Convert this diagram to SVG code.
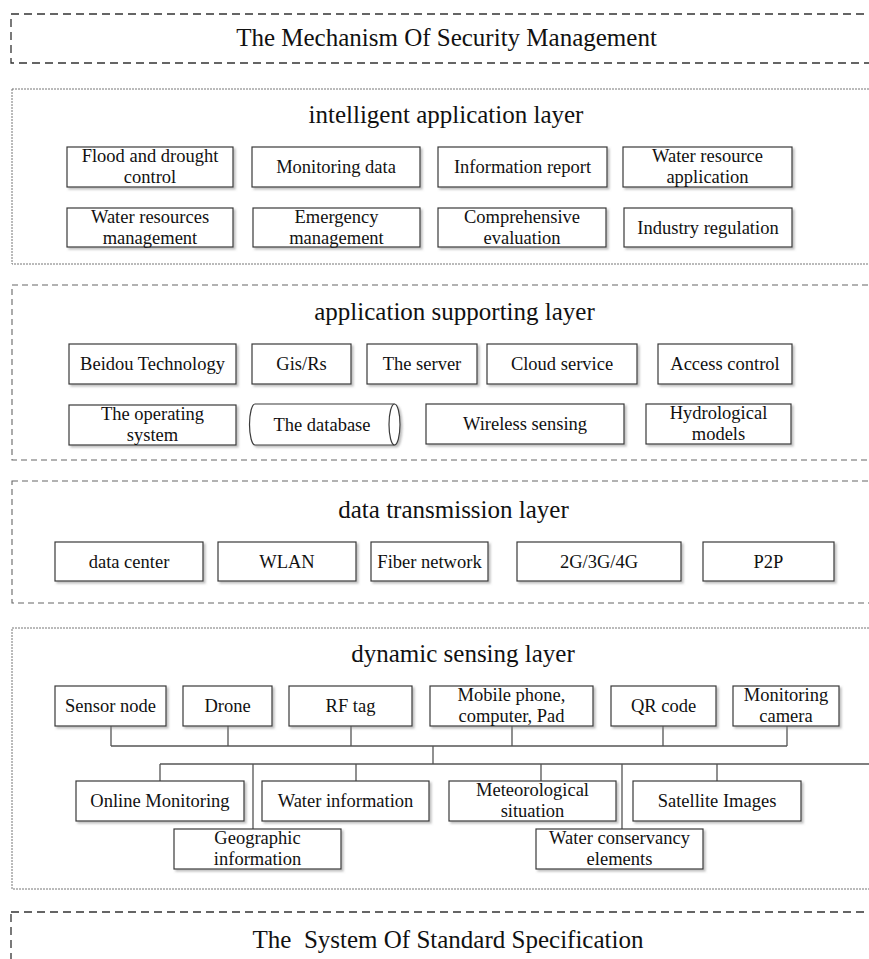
<svg xmlns="http://www.w3.org/2000/svg" width="869" height="959" viewBox="0 0 869 959">
  <defs>
    <filter id="soft" x="-10%" y="-10%" width="130%" height="140%">
      <feDropShadow dx="2" dy="2" stdDeviation="1" flood-color="#888" flood-opacity="0.55"/>
    </filter>
    <style>
      .frame-dash { fill: none; stroke: #333; stroke-width: 1.3; stroke-dasharray: 8 5; }
      .layer-dot { fill: none; stroke: #777; stroke-width: 1; stroke-dasharray: 2 1; }
      .layer-dash { fill: none; stroke: #666; stroke-width: 1.1; stroke-dasharray: 6 4; }
      .box { fill: #fff; stroke: #3a3a3a; stroke-width: 1.2; filter: url(#soft); }
      .link { fill: none; stroke: #555; stroke-width: 1.3; }
      text { font-family: "Liberation Serif", "Times New Roman", serif; fill: #111; }
      .title { font-size: 25px; text-anchor: middle; }
      .lbl { font-size: 18.5px; text-anchor: middle; }
    </style>
  </defs>
  <rect width="869" height="959" fill="#fff"/>

  <!-- outer frames -->
  <g id="security-management">
    <rect class="frame-dash" x="11" y="14" width="900" height="49"/>
    <text class="title" x="446.5" y="46">The Mechanism Of Security Management</text>
  </g>

  <g id="standard-specification">
    <rect class="frame-dash" x="11" y="912" width="900" height="80"/>
    <text class="title" x="448" y="948" xml:space="preserve">The  System Of Standard Specification</text>
  </g>

  <!-- intelligent application layer -->
  <g id="intelligent-layer">
    <rect class="layer-dot" x="12" y="89" width="900" height="175"/>
    <text class="title" x="446" y="123">intelligent application layer</text>
  </g>
  <g id="flood-drought">
    <rect class="box" x="67" y="147" width="166" height="40"/>
    <text class="lbl" x="150" y="161.5">Flood and drought</text>
    <text class="lbl" x="150" y="182.5">control</text>
  </g>
  <g id="monitoring-data">
    <rect class="box" x="252" y="147" width="168" height="40"/>
    <text class="lbl" x="336" y="173">Monitoring data</text>
  </g>
  <g id="information-report">
    <rect class="box" x="438" y="147" width="169" height="40"/>
    <text class="lbl" x="522.5" y="173">Information report</text>
  </g>
  <g id="water-resource-application">
    <rect class="box" x="623" y="147" width="169" height="40"/>
    <text class="lbl" x="707.5" y="161.5">Water resource</text>
    <text class="lbl" x="707.5" y="182.5">application</text>
  </g>
  <g id="water-resources-management">
    <rect class="box" x="67" y="208" width="166" height="39"/>
    <text class="lbl" x="150" y="222.5">Water resources</text>
    <text class="lbl" x="150" y="243.5">management</text>
  </g>
  <g id="emergency-management">
    <rect class="box" x="253" y="208" width="167" height="39"/>
    <text class="lbl" x="336.5" y="222.5">Emergency</text>
    <text class="lbl" x="336.5" y="243.5">management</text>
  </g>
  <g id="comprehensive-evaluation">
    <rect class="box" x="438" y="208" width="168" height="39"/>
    <text class="lbl" x="522" y="222.5">Comprehensive</text>
    <text class="lbl" x="522" y="243.5">evaluation</text>
  </g>
  <g id="industry-regulation">
    <rect class="box" x="624" y="208" width="168" height="39"/>
    <text class="lbl" x="708" y="233.5">Industry regulation</text>
  </g>

  <!-- application supporting layer -->
  <g id="supporting-layer">
    <rect class="layer-dash" x="12" y="285" width="900" height="175"/>
    <text class="title" x="454.5" y="320">application supporting layer</text>
  </g>
  <g id="beidou">
    <rect class="box" x="69" y="344" width="167" height="40"/>
    <text class="lbl" x="152.5" y="370">Beidou Technology</text>
  </g>
  <g id="gis-rs">
    <rect class="box" x="252" y="344" width="99" height="40"/>
    <text class="lbl" x="301.5" y="370">Gis/Rs</text>
  </g>
  <g id="server">
    <rect class="box" x="367" y="344" width="110" height="40"/>
    <text class="lbl" x="422" y="370">The server</text>
  </g>
  <g id="cloud-service">
    <rect class="box" x="487" y="344" width="150" height="40"/>
    <text class="lbl" x="562" y="370">Cloud service</text>
  </g>
  <g id="access-control">
    <rect class="box" x="658" y="344" width="134" height="40"/>
    <text class="lbl" x="725" y="370">Access control</text>
  </g>
  <g id="operating-system">
    <rect class="box" x="69" y="405" width="167" height="40"/>
    <text class="lbl" x="152.5" y="419.5">The operating</text>
    <text class="lbl" x="152.5" y="440.5">system</text>
  </g>
  <g id="database">
    <path class="box" d="M255,404 L394.5,404 A5.5,20.5 0 0 1 394.5,445 L255,445 A5.5,20.5 0 0 1 255,404 Z"/>
    <path class="link" d="M394.5,404 A5.5,20.5 0 0 0 394.5,445" style="stroke:#3a3a3a;stroke-width:1.2"/>
    <text class="lbl" x="322" y="430.5">The database</text>
  </g>
  <g id="wireless-sensing">
    <rect class="box" x="426" y="404" width="198" height="40"/>
    <text class="lbl" x="525" y="430">Wireless sensing</text>
  </g>
  <g id="hydrological-models">
    <rect class="box" x="646" y="404" width="145" height="40"/>
    <text class="lbl" x="718.5" y="418.5">Hydrological</text>
    <text class="lbl" x="718.5" y="439.5">models</text>
  </g>

  <!-- data transmission layer -->
  <g id="transmission-layer">
    <rect class="layer-dash" x="12" y="481" width="900" height="122"/>
    <text class="title" x="453.5" y="518">data transmission layer</text>
  </g>
  <g id="data-center">
    <rect class="box" x="55" y="542" width="148" height="39"/>
    <text class="lbl" x="129" y="567.5">data center</text>
  </g>
  <g id="wlan">
    <rect class="box" x="218" y="542" width="138" height="39"/>
    <text class="lbl" x="287" y="567.5">WLAN</text>
  </g>
  <g id="fiber-network">
    <rect class="box" x="371" y="542" width="117" height="39"/>
    <text class="lbl" x="429.5" y="567.5">Fiber network</text>
  </g>
  <g id="mobile-network">
    <rect class="box" x="517" y="542" width="164" height="39"/>
    <text class="lbl" x="599" y="567.5">2G/3G/4G</text>
  </g>
  <g id="p2p">
    <rect class="box" x="703" y="542" width="131" height="39"/>
    <text class="lbl" x="768.5" y="567.5">P2P</text>
  </g>

  <!-- dynamic sensing layer -->
  <g id="sensing-layer">
    <rect class="layer-dot" x="12" y="628" width="900" height="261"/>
    <text class="title" x="463" y="662">dynamic sensing layer</text>
  </g>

  <g id="connectors">
    <!-- sensing devices to upper bus -->
    <path class="link" d="M111,726 V746 M228,726 V746 M351,726 V746 M512,726 V746 M663,726 V746 M787,726 V746"/>
    <path class="link" d="M111,746 H787"/>
    <!-- upper bus to lower bus -->
    <path class="link" d="M433,746 V764"/>
    <path class="link" d="M160,764 H869"/>
    <!-- lower bus to data categories -->
    <path class="link" d="M160,764 V781 M356,764 V781 M541,764 V781 M717,764 V781"/>
    <path class="link" d="M253,764 V829 M622,764 V829"/>
  </g>

  <g id="sensor-node">
    <rect class="box" x="55" y="686" width="111" height="40"/>
    <text class="lbl" x="110.5" y="712">Sensor node</text>
  </g>
  <g id="drone">
    <rect class="box" x="183" y="686" width="89" height="40"/>
    <text class="lbl" x="227.5" y="712">Drone</text>
  </g>
  <g id="rf-tag">
    <rect class="box" x="289" y="686" width="123" height="40"/>
    <text class="lbl" x="350.5" y="712">RF tag</text>
  </g>
  <g id="mobile-devices">
    <rect class="box" x="430" y="686" width="163" height="40"/>
    <text class="lbl" x="511.5" y="700.5">Mobile phone,</text>
    <text class="lbl" x="511.5" y="721.5">computer, Pad</text>
  </g>
  <g id="qr-code">
    <rect class="box" x="611" y="686" width="105" height="40"/>
    <text class="lbl" x="663.5" y="712">QR code</text>
  </g>
  <g id="monitoring-camera">
    <rect class="box" x="733" y="686" width="106" height="40"/>
    <text class="lbl" x="786" y="700.5">Monitoring</text>
    <text class="lbl" x="786" y="721.5">camera</text>
  </g>

  <g id="online-monitoring">
    <rect class="box" x="76" y="781" width="168" height="40"/>
    <text class="lbl" x="160" y="807">Online Monitoring</text>
  </g>
  <g id="water-information">
    <rect class="box" x="262" y="781" width="167" height="40"/>
    <text class="lbl" x="345.5" y="807">Water information</text>
  </g>
  <g id="meteorological-situation">
    <rect class="box" x="449" y="781" width="167" height="40"/>
    <text class="lbl" x="532.5" y="795.5">Meteorological</text>
    <text class="lbl" x="532.5" y="816.5">situation</text>
  </g>
  <g id="satellite-images">
    <rect class="box" x="633" y="781" width="168" height="40"/>
    <text class="lbl" x="717" y="807">Satellite Images</text>
  </g>
  <g id="geographic-information">
    <rect class="box" x="174" y="829" width="167" height="40"/>
    <text class="lbl" x="257.5" y="843.5">Geographic</text>
    <text class="lbl" x="257.5" y="864.5">information</text>
  </g>
  <g id="water-conservancy-elements">
    <rect class="box" x="536" y="829" width="167" height="40"/>
    <text class="lbl" x="619.5" y="843.5">Water conservancy</text>
    <text class="lbl" x="619.5" y="864.5">elements</text>
  </g>
</svg>
